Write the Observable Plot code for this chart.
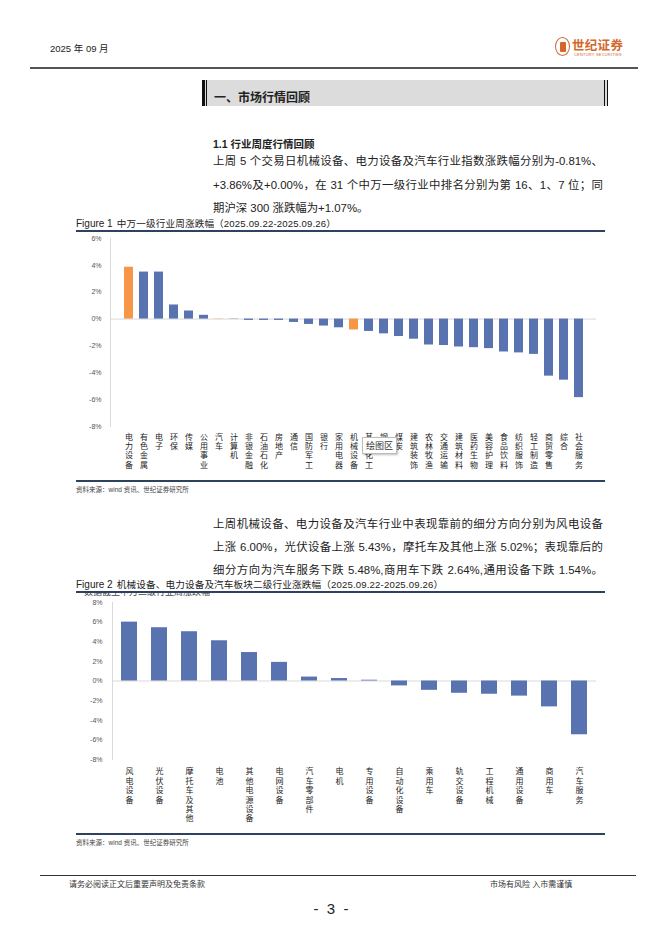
<!DOCTYPE html>
<html><head><meta charset="utf-8">
<script src="https://cdn.jsdelivr.net/npm/d3@7"></script>
<script src="https://cdn.jsdelivr.net/npm/@observablehq/plot@0.6"></script>
<style>
html,body{margin:0;padding:0;background:#fff}
body{width:662px;height:936px;position:relative;overflow:hidden;font-family:"Liberation Sans","Noto Sans CJK SC",sans-serif;color:#222}
.abs{position:absolute;white-space:nowrap}
.para{position:absolute;left:213px;width:390px;font-size:11.4px;line-height:14px;white-space:nowrap}
.cap{position:absolute;left:76px;font-size:9.6px;line-height:11px;white-space:nowrap;letter-spacing:0.15px}
.cap b{font-weight:normal;font-family:"Liberation Sans",sans-serif;font-size:10px;letter-spacing:0;margin-right:4px}
.rule{position:absolute;left:76px;width:529px;height:1.5px;background:#2d4160}
.src{position:absolute;left:76px;font-size:6.5px;color:#444;white-space:nowrap}
.chart{position:absolute}
.chart svg{overflow:visible}
</style></head><body>

<div class="abs" style="left:50px;top:41px;font-size:9.5px;">2025 年 09 月</div>

<!-- logo -->
<div class="abs" style="left:555px;top:37px;width:15px;height:19px;border:1.6px solid #d4672c;border-radius:50%;box-sizing:border-box;"></div>
<div class="abs" style="left:559.5px;top:41.5px;width:6px;height:10px;background:#d4672c;border-radius:1px;"></div>
<div class="abs" style="left:572px;top:35px;font-size:12.5px;font-weight:bold;color:#d4672c;letter-spacing:0.3px;">世纪证券</div>
<div class="abs" style="left:574px;top:52px;font-size:4px;color:#d4672c;letter-spacing:0.2px;">CENTURY SECURITIES</div>

<div class="abs" style="left:30px;top:67px;width:608px;height:1.5px;background:#555;"></div>

<!-- section header -->
<div class="abs" style="left:202px;top:80px;width:406px;height:26px;background:#dcdcdc;"></div>
<div class="abs" style="left:202px;top:80px;width:2.5px;height:26px;background:#111;"></div>
<div class="abs" style="left:206px;top:80px;width:1px;height:26px;background:#111;"></div>
<div class="abs" style="left:604px;top:80px;width:1px;height:26px;background:#111;"></div>
<div class="abs" style="left:606.5px;top:80px;width:1.5px;height:26px;background:#111;"></div>
<div class="abs" style="left:214px;top:88px;font-size:12px;font-weight:bold;">一、市场行情回顾</div>

<div class="abs" style="left:213px;top:136px;font-size:10.5px;font-weight:bold;">1.1 行业周度行情回顾</div>

<div class="para fit" style="top:154px;">上周 5 个交易日机械设备、电力设备及汽车行业指数涨跌幅分别为-0.81%、</div>
<div class="para fit" style="top:178px;">+3.86%及+0.00%，在 31 个中万一级行业中排名分别为第 16、1、7 位；同</div>
<div class="para" style="top:201px;">期沪深 300 涨跌幅为+1.07%。</div>

<div class="cap" style="top:218px;"><b>Figure 1</b>中万一级行业周涨跌幅（2025.09.22-2025.09.26）</div>
<div class="rule" style="top:230px;"></div>
<div id="chart1" class="chart" style="left:50px;top:231px;"></div>
<div class="rule" style="top:480px;"></div>
<div class="src" style="top:484px;">资料来源：wind 资讯、世纪证券研究所</div>

<div class="abs" style="left:362px;top:437px;padding:1px 3px;font-size:9px;background:#fff;border:1px solid #bbb;box-shadow:1px 1px 2px rgba(0,0,0,0.25);color:#333;">绘图区</div>

<div class="para fit" style="top:517px;">上周机械设备、电力设备及汽车行业中表现靠前的细分方向分别为风电设备</div>
<div class="para fit" style="top:540px;">上涨 6.00%，光伏设备上涨 5.43%，摩托车及其他上涨 5.02%；表现靠后的</div>
<div class="para fit" style="top:563px;">细分方向为汽车服务下跌 5.48%,商用车下跌 2.64%,通用设备下跌 1.54%。</div>

<div class="cap" style="top:579px;"><b>Figure 2</b>机械设备、电力设备及汽车板块二级行业涨跌幅（2025.09.22-2025.09.26）</div>
<div class="abs" style="left:84px;top:593px;height:4px;overflow:hidden;width:200px;"><div style="font-size:9px;line-height:9px;margin-top:-5px;color:#444;">数据截至申万二级行业周涨跌幅</div></div>
<div class="rule" style="top:591px;"></div>
<div id="chart2" class="chart" style="left:50px;top:593px;"></div>
<div class="rule" style="top:833px;"></div>
<div class="src" style="top:837px;">资料来源：wind 资讯、世纪证券研究所</div>

<div class="abs" style="left:40px;top:875px;width:596px;height:1.2px;background:#333;"></div>
<div class="abs" style="left:69px;top:878px;font-size:8px;color:#333;">请务必阅读正文后重要声明及免责条款</div>
<div class="abs" style="left:490px;top:878px;font-size:8px;color:#333;">市场有风险 入市需谨慎</div>
<div class="abs" style="left:0;width:662px;text-align:center;top:900px;font-size:15px;color:#222;white-space:pre;">-  3  -</div>

<script>
// ---------- data ----------
const industries1 = ["电力设备","有色金属","电子","环保","传媒","公用事业","汽车","计算机","非银金融","石油石化","房地产","通信","国防军工","银行","家用电器","机械设备","基础化工","钢铁","煤炭","建筑装饰","农林牧渔","交通运输","建筑材料","医药生物","美容护理","食品饮料","纺织服饰","轻工制造","商贸零售","综合","社会服务"];
const change1 = [3.86,3.50,3.50,1.05,0.60,0.28,0.02,-0.02,-0.10,-0.10,-0.10,-0.25,-0.40,-0.52,-0.65,-0.81,-0.92,-1.10,-1.30,-1.50,-1.93,-1.97,-2.08,-2.13,-2.20,-2.45,-2.52,-2.63,-4.25,-4.55,-5.85];
const highlight1 = ["电力设备","汽车","机械设备"];
const yTicks1 = [-8,-6,-4,-2,0,2,4,6];

const sectors2 = ["风电设备","光伏设备","摩托车及其他","电池","其他电源设备","电网设备","汽车零部件","电机","专用设备","自动化设备","乘用车","轨交设备","工程机械","通用设备","商用车","汽车服务"];
const change2 = [6.00,5.43,5.02,4.10,2.90,1.90,0.40,0.25,0.08,-0.50,-0.95,-1.25,-1.35,-1.54,-2.64,-5.48];
const yTicks2 = [-8,-6,-4,-2,0,2,4,6,8];

// fit justified text lines into their 390px column
document.querySelectorAll(".fit").forEach(el => {
  let fs = 11.4;
  el.style.display = "inline-block";
  el.style.width = "auto";
  while (el.scrollWidth > 388 && fs > 9) { fs -= 0.1; el.style.fontSize = fs + "px"; }
  el.style.display = "block";
  el.style.width = "390px";
  el.style.whiteSpace = "normal";
  el.style.textAlign = "justify";
  el.style.textAlignLast = "justify";
});

const blue = "#5873b0", orange = "#f79646", axisGrey = "#d9d9d9";
const fontFam = '"Liberation Sans","Noto Sans CJK SC",sans-serif';

const data1 = industries1.map((name, i) => ({name, value: change1[i], hi: highlight1.includes(name)}));
const data2 = sectors2.map((name, i) => ({name, value: change2[i]}));

const vertical = d => d.split("").join("\n");

const chart1 = Plot.plot({
  width: 560, height: 248,
  marginLeft: 60, marginRight: 14, marginTop: 7, marginBottom: 53,
  style: {fontFamily: fontFam, background: "transparent", overflow: "visible"},
  x: {domain: industries1, paddingInner: 0.4, paddingOuter: 0.2},
  y: {domain: [-8, 6]},
  marks: [
    Plot.frame({anchor: "left", stroke: axisGrey}),
    Plot.ruleY([0], {stroke: axisGrey}),
    Plot.barY(data1.filter(d => !d.hi), {x: "name", y: "value", fill: blue}),
    Plot.barY(data1.filter(d => d.hi), {x: "name", y: "value", fill: orange}),
    Plot.axisX({tickSize: 0, tickPadding: 7, tickFormat: vertical, fontSize: 8, lineHeight: 1.15, fill: "#222", label: null}),
    Plot.axisY({ticks: yTicks1, tickSize: 0, tickPadding: 9, tickFormat: d => d + "%", fontSize: 7, fill: "#555", label: null})
  ]
});
document.getElementById("chart1").appendChild(chart1);

const chart2 = Plot.plot({
  width: 560, height: 240,
  marginLeft: 62, marginRight: 14, marginTop: 9, marginBottom: 74,
  style: {fontFamily: fontFam, background: "transparent", overflow: "visible"},
  x: {domain: sectors2, paddingInner: 0.47, paddingOuter: 0.2},
  y: {domain: [-8, 8]},
  marks: [
    Plot.frame({anchor: "left", stroke: axisGrey}),
    Plot.ruleY([0], {stroke: axisGrey}),
    Plot.barY(data2, {x: "name", y: "value", fill: blue}),
    Plot.axisX({tickSize: 0, tickPadding: 8, tickFormat: vertical, fontSize: 8, lineHeight: 1.18, fill: "#222", label: null}),
    Plot.axisY({ticks: yTicks2, tickSize: 0, tickPadding: 10, tickFormat: d => d + "%", fontSize: 7, fill: "#555", label: null})
  ]
});
document.getElementById("chart2").appendChild(chart2);
</script>
</body></html>
